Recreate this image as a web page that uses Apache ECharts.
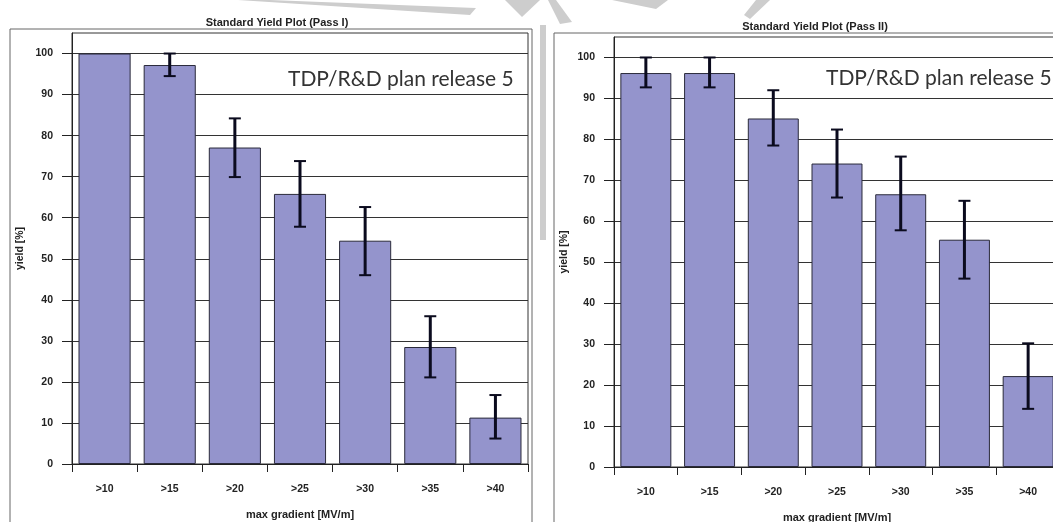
<!DOCTYPE html>
<html><head><meta charset="utf-8">
<script src="https://cdn.jsdelivr.net/npm/echarts@6/dist/echarts.min.js"></script>
<style>html,body{margin:0;padding:0;background:#fff;}#c{width:1053px;height:522px;}</style>
</head><body><div id="c"></div>
<script>
const categories = ['>10','>15','>20','>25','>30','>35','>40'];
const yTicks = [0,10,20,30,40,50,60,70,80,90,100];
// Pass I
const pass1Yield = [100, 97.2, 77.1, 65.8, 54.4, 28.5, 11.3];
const pass1Low   = [null, 94.5, 69.9, 57.8, 46.0, 21.1, 6.2];
const pass1High  = [null, 100, 84.2, 73.8, 62.6, 36.0, 16.8];
// Pass II
const pass2Yield = [96.2, 96.2, 85.1, 74.1, 66.6, 55.5, 22.2];
const pass2Low   = [92.7, 92.7, 78.5, 65.8, 57.8, 46.0, 14.2];
const pass2High  = [100, 100, 92.0, 82.4, 75.8, 65.0, 30.2];
const titles = ['Standard Yield Plot (Pass I)', 'Standard Yield Plot (Pass II)'];
const note = 'TDP/R&D plan release 5';

const FONT = 'Liberation Sans';
const errColor = '#0b0b1e';
function errData(lo, hi){
  const out = [];
  lo.forEach((l,i)=>{ if(l!=null) out.push([i, l, hi[i]]); });
  return out;
}
function renderErr(params, api){
  const x = api.value(0), lo = api.value(1), hi = api.value(2);
  const a = api.coord([x, lo]), b = api.coord([x, hi]);
  const hw = 6;
  return {type:'group', children:[
    {type:'line', shape:{x1:a[0],y1:a[1],x2:b[0],y2:b[1]}, style:{stroke:errColor,lineWidth:3}},
    {type:'line', shape:{x1:a[0]-hw,y1:a[1],x2:a[0]+hw,y2:a[1]}, style:{stroke:errColor,lineWidth:2}},
    {type:'line', shape:{x1:b[0]-hw,y1:b[1],x2:b[0]+hw,y2:b[1]}, style:{stroke:errColor,lineWidth:2}}
  ]};
}
function xAx(idx){
  return {type:'category', gridIndex:idx, data:categories,
    name:'max gradient [MV/m]', nameLocation:'middle', nameGap:45,
    nameTextStyle:{fontFamily:FONT,fontWeight:'bold',fontSize:11,color:'#222'},
    axisLine:{lineStyle:{color:'#222',width:1}},
    axisTick:{show:true,length:8,lineStyle:{color:'#222'}},
    axisLabel:{fontFamily:FONT,fontWeight:'bold',fontSize:10.5,color:'#222',margin:20}};
}
function yAx(idx){
  return {type:'value', gridIndex:idx, min:0, max:105, interval:10,
    name:'yield [%]', nameLocation:'middle', nameRotate:90, nameGap:(idx===0?46:44),
    nameTextStyle:{fontFamily:FONT,fontWeight:'bold',fontSize:10.5,color:'#222'},
    axisLine:{show:true,lineStyle:{color:'#222'}},
    axisTick:{show:true,length:10,lineStyle:{color:'#222'},customValues:yTicks},
    axisLabel:{fontFamily:FONT,fontWeight:'bold',fontSize:10.5,color:'#222',margin:19,customValues:yTicks},
    splitLine:{show:true,lineStyle:{color:'#333',width:1}}};
}
const chart = echarts.init(document.getElementById('c'), null, {renderer:'canvas'});
const wm = '#cdcdcd';
chart.setOption({
  animation:false,
  backgroundColor:'#fff',
  title:[
    {text:titles[0], left:272, top:12, textAlign:'center', textStyle:{fontFamily:FONT,fontWeight:'bold',fontSize:11,color:'#222'}},
    {text:titles[1], left:810, top:16, textAlign:'center', textStyle:{fontFamily:FONT,fontWeight:'bold',fontSize:11,color:'#222'}}
  ],
  grid:[
    {left:72, top:33, width:456, height:431, show:true, borderColor:'#333', borderWidth:1, backgroundColor:'transparent', containLabel:false, outerBoundsMode:'none'},
    {left:614, top:37, width:446, height:430, show:true, borderColor:'#333', borderWidth:1, backgroundColor:'transparent', containLabel:false, outerBoundsMode:'none'}
  ],
  xAxis:[xAx(0), xAx(1)],
  yAxis:[yAx(0), yAx(1)],
  graphic:[
    {type:'rect', shape:{x:10,y:29,width:522,height:520}, style:{fill:'none',stroke:'#666',lineWidth:1}, z:-1},
    {type:'rect', shape:{x:554,y:33,width:520,height:520}, style:{fill:'none',stroke:'#666',lineWidth:1}, z:-1},
    {type:'polygon', shape:{points:[[238,0],[270,0],[476,8],[470,15]]}, style:{fill:wm}, z:-2},
    {type:'polygon', shape:{points:[[505,0],[540,0],[522,17]]}, style:{fill:wm}, z:-2},
    {type:'polygon', shape:{points:[[548,0],[556,0],[572,22],[560,24]]}, style:{fill:wm}, z:-2},
    {type:'polygon', shape:{points:[[612,0],[668,0],[656,9]]}, style:{fill:wm}, z:-2},
    {type:'polygon', shape:{points:[[756,0],[770,0],[750,19],[744,15]]}, style:{fill:wm}, z:-2},
    {type:'rect', shape:{x:540,y:25,width:6,height:215}, style:{fill:wm}, z:-2},
    {type:'text', left:288, top:69, style:{text:note, font:'21px Lato', fill:'#333'}},
    {type:'text', left:826, top:68, style:{text:note, font:'21px Lato', fill:'#333'}}
  ],
  series:[
    {type:'bar', xAxisIndex:0, yAxisIndex:0, data:pass1Yield, barCategoryGap:'20%',
      itemStyle:{color:'#9494cc', borderColor:'#2a2a3a', borderWidth:1}},
    {type:'custom', xAxisIndex:0, yAxisIndex:0, data:errData(pass1Low,pass1High),
      encode:{x:0, y:[1,2]}, renderItem:renderErr, z:5},
    {type:'bar', xAxisIndex:1, yAxisIndex:1, data:pass2Yield, barCategoryGap:'20%',
      itemStyle:{color:'#9494cc', borderColor:'#2a2a3a', borderWidth:1}},
    {type:'custom', xAxisIndex:1, yAxisIndex:1, data:errData(pass2Low,pass2High),
      encode:{x:0, y:[1,2]}, renderItem:renderErr, z:5}
  ]
});
</script></body></html>
